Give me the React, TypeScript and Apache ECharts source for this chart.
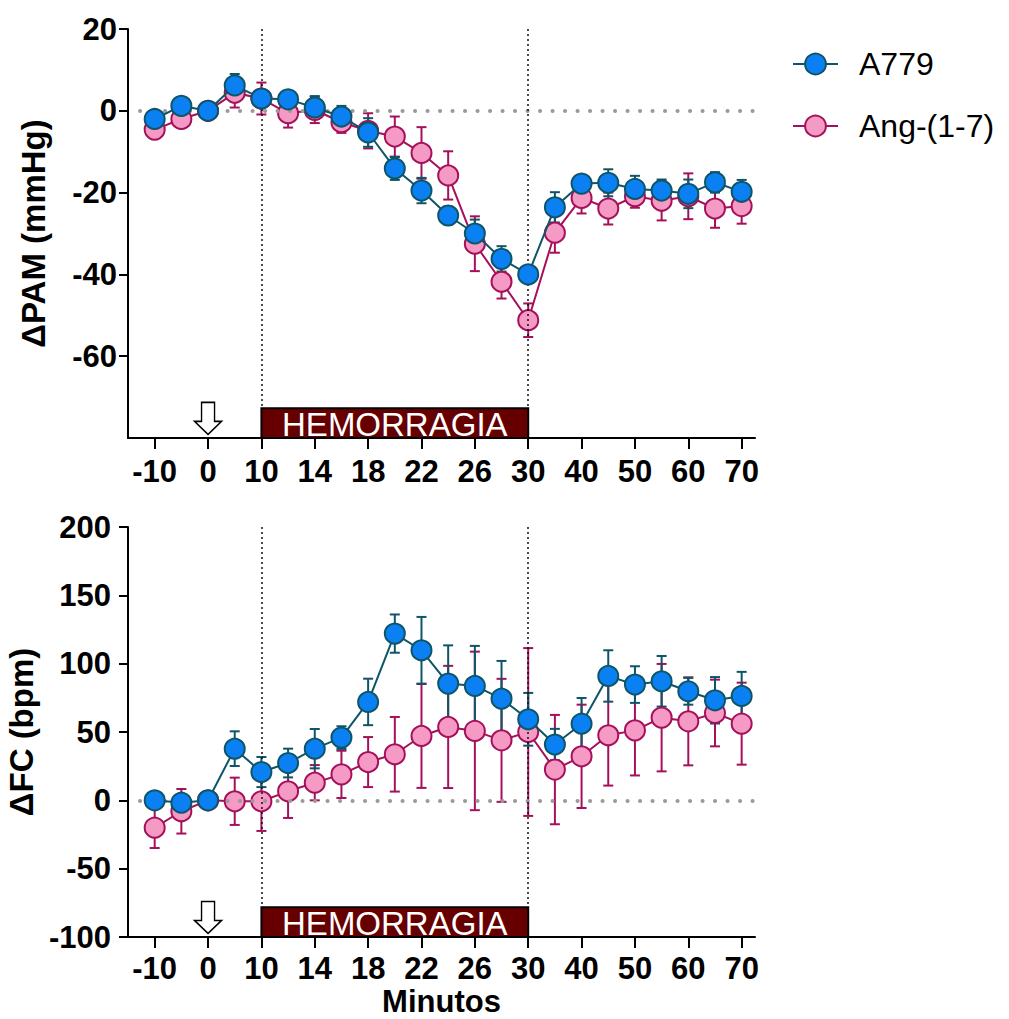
import React, { useEffect, useRef } from "react";
import * as echarts from "echarts";

// ---- data ----
const times = [-10, -5, 0, 5, 10, 12, 14, 16, 18, 20, 22, 24, 26, 28, 30, 35, 40, 45, 50, 55, 60, 65, 70];
const tickIndices = [0, 2, 4, 6, 8, 10, 12, 14, 16, 18, 20, 22];

const pamA779 = [-2, 1.2, 0, 6.2, 3.0, 2.8, 0.8, -1.4, -5.3, -14.1, -19.5, -25.6, -30, -36.2, -40, -23.6, -17.8, -17.6, -19.1, -19.5, -20.3, -17.5, -19.8];
const pamA779Sem = [1.0, 1.0, 0, 2.8, 2.0, 1.5, 2.8, 2.6, 3.5, 2.8, 3.1, 2.2, 3.4, 3.1, 2.0, 3.7, 2.0, 3.3, 3.2, 2.7, 3.5, 2.5, 2.9];
const pamAng = [-4.6, -2.0, 0, 4.4, 3.0, -0.6, 0.2, -2.8, -4.9, -6.3, -10.3, -15.8, -32.5, -41.8, -51.2, -29.8, -21.3, -23.9, -20.9, -22.0, -20.9, -23.9, -23.3];
const pamAngSem = [1.5, 1.0, 0, 3.6, 3.9, 3.5, 3.2, 2.6, 4.3, 4.9, 6.3, 5.9, 6.7, 4.1, 4.1, 4.9, 3.8, 3.9, 2.8, 4.8, 5.6, 4.7, 4.3];

const fcA779 = [0, -1.7, 0, 37.8, 20.7, 27.3, 37.8, 45.9, 72, 122, 109.8, 85.4, 83.7, 74.4, 59.3, 40.8, 56.1, 91, 84.7, 87.1, 79.8, 73.2, 76.4];
const fcA779Sem = [3, 3, 0, 12.7, 11, 10.5, 14.4, 8.3, 17, 14, 24.4, 28, 29.3, 27.6, 19.3, 11.5, 18.8, 18.8, 13.4, 18.5, 9.8, 17, 17.6];
const fcAng = [-20, -8, 0, -0.7, -0.7, 6.6, 12.9, 19, 28, 33.7, 47.1, 53.7, 50.8, 43.9, 50, 22.5, 32.2, 47.6, 51.2, 60.5, 57.8, 63.9, 56.1];
const fcAngSem = [14.9, 16.3, 0, 17.3, 21.7, 19.5, 12.9, 17.3, 18.3, 27.3, 38, 44.7, 58, 45, 61.4, 40, 37.8, 36.8, 33, 39.3, 32.2, 24.4, 30];

const pamTicks = [-60, -40, -20, 0, 20];
const hemStart = 10;
const hemEnd = 30;
const injectTime = 0;

// ---- styles ----
const FONT = 'Arial, "Liberation Sans", Helvetica, sans-serif';
const BLUE_FILL = "#0a80f2";
const BLUE_LINE = "#0e5568";
const PINK_FILL = "#f59ac4";
const PINK_LINE = "#a5105a";
const TICK_FS = 31;
const TITLE_FS = 33;

const idxOf = (t: number) => times.indexOf(t);

function errSeries(name: string, means: number[], sems: number[], color: string, ax: number) {
  return {
    type: "custom",
    name: name + " err",
    xAxisIndex: ax,
    yAxisIndex: ax,
    z: 3,
    silent: true,
    data: means.map((m, i) => [i, m, sems[i]]),
    encode: { x: 0, y: 1 },
    renderItem: (params: any, api: any) => {
      const x = api.value(0);
      const m = api.value(1);
      const e = api.value(2);
      if (!e) return { type: "group", children: [] };
      const hi = api.coord([x, m + e]);
      const lo = api.coord([x, m - e]);
      const w = 5;
      const st = { stroke: color, lineWidth: 2 };
      return {
        type: "group",
        children: [
          { type: "line", shape: { x1: hi[0], y1: hi[1], x2: lo[0], y2: lo[1] }, style: st },
          { type: "line", shape: { x1: hi[0] - w, y1: hi[1], x2: hi[0] + w, y2: hi[1] }, style: st },
          { type: "line", shape: { x1: lo[0] - w, y1: lo[1], x2: lo[0] + w, y2: lo[1] }, style: st },
        ],
      };
    },
  };
}

function lineSeries(name: string, means: number[], fill: string, stroke: string, ax: number, z: number) {
  return {
    type: "line",
    name,
    xAxisIndex: ax,
    yAxisIndex: ax,
    z,
    data: means.map((m, i) => [i, m]),
    symbol: "circle",
    symbolSize: 20,
    showAllSymbol: true,
    lineStyle: { color: stroke, width: 2 },
    itemStyle: { color: fill, borderColor: stroke, borderWidth: 2 },
    emphasis: { disabled: true },
  };
}

function annotSeries(ax: number, yTop: number, boxTop: number, yMin: number, arrowY: number) {
  const s = idxOf(hemStart);
  const e = idxOf(hemEnd);
  return {
    type: "scatter",
    name: "annot" + ax,
    xAxisIndex: ax,
    yAxisIndex: ax,
    data: [],
    z: 1,
    silent: true,
    markLine: {
      silent: true,
      symbol: "none",
      label: { show: false },
      animation: false,
      data: [
        [
          { coord: [-0.55, 0], lineStyle: { color: "#9a9a9a", width: 4, type: [0.1, 12.4], cap: "round" } },
          { coord: [22.5, 0] },
        ],
        [
          { coord: [s, yTop], lineStyle: { color: "#111", width: 1.5, type: [2, 3] } },
          { coord: [s, boxTop] },
        ],
        [
          { coord: [e, yTop], lineStyle: { color: "#111", width: 1.5, type: [2, 3] } },
          { coord: [e, boxTop] },
        ],
      ],
    },
    markArea: {
      silent: true,
      itemStyle: { color: "#660000", borderColor: "#000", borderWidth: 2, opacity: 1 },
      label: {
        show: true,
        position: "inside",
        color: "#fff",
        fontSize: 33,
        fontFamily: FONT,
        fontWeight: "normal",
        offset: [0, 1],
      },
      data: [[{ coord: [s, yMin], name: "HEMORRAGIA" }, { coord: [e, boxTop] }]],
    },
    markPoint: {
      silent: true,
      symbol: "path://M7,0 L20,0 L20,19 L27,19 L13.5,32 L0,19 L7,19 Z",
      symbolSize: [27, 32],
      symbolKeepAspect: false,
      label: { show: false },
      itemStyle: { color: "#fff", borderColor: "#000", borderWidth: 1.5 },
      data: [{ coord: [idxOf(injectTime), arrowY] }],
    },
  };
}

const xAxisCommon = (gi: number, margin: number, extra: any = {}) => ({
  type: "value",
  gridIndex: gi,
  min: -1,
  max: 22.5,
  splitLine: { show: false },
  axisLine: { show: true, onZero: false, lineStyle: { color: "#000", width: 2 } },
  axisTick: { show: true, length: 11, lineStyle: { color: "#000", width: 2 }, customValues: tickIndices },
  axisLabel: {
    customValues: tickIndices,
    formatter: (v: number) => String(times[Math.round(v)]),
    color: "#000",
    fontSize: TICK_FS,
    fontWeight: "bold",
    fontFamily: FONT,
    margin,
  },
  ...extra,
});

export default function App() {
  const ref = useRef<HTMLDivElement>(null);
  useEffect(() => {
    document.body.style.margin = "0";
    const chart = echarts.init(ref.current!, null, { renderer: "svg" });
    const option: any = {
      animation: false,
      backgroundColor: "#fff",
      textStyle: { fontFamily: FONT },
      legend: {
        data: ["A779", "Ang-(1-7)"],
        orient: "vertical",
        left: 787,
        top: 43,
        itemWidth: 45,
        itemHeight: 26,
        itemGap: 30,
        selectedMode: false,
        textStyle: { fontSize: 32, color: "#000", fontFamily: FONT, padding: [0, 0, 0, 16] },
      },
      grid: [
        { left: 128, top: 29, width: 627, height: 409, containLabel: false, outerBoundsMode: "none" },
        { left: 128, top: 527, width: 627, height: 410, containLabel: false, outerBoundsMode: "none" },
      ],
      xAxis: [
        xAxisCommon(0, 18),
        xAxisCommon(1, 16, {
          name: "Minutos",
          nameLocation: "middle",
          nameGap: 49,
          nameTextStyle: { fontSize: 31, fontWeight: "bold", color: "#000", fontFamily: FONT },
        }),
      ],
      yAxis: [
        {
          type: "value",
          gridIndex: 0,
          min: -80,
          max: 20,
          interval: 20,
          splitLine: { show: false },
          axisLine: { show: true, onZero: false, lineStyle: { color: "#000", width: 2 } },
          axisTick: { show: true, length: 9, lineStyle: { color: "#000", width: 2 }, customValues: pamTicks },
          axisLabel: {
            customValues: pamTicks,
            formatter: (v: number) => (v === -80 ? "" : String(v)),
            color: "#000",
            fontSize: TICK_FS,
            fontWeight: "bold",
            fontFamily: FONT,
            margin: 11,
          },
          name: "ΔPAM (mmHg)",
          nameLocation: "middle",
          nameGap: 78,
          nameTextStyle: { fontSize: TITLE_FS, fontWeight: "bold", color: "#000", fontFamily: FONT },
        },
        {
          type: "value",
          gridIndex: 1,
          min: -100,
          max: 200,
          interval: 50,
          splitLine: { show: false },
          axisLine: { show: true, onZero: false, lineStyle: { color: "#000", width: 2 } },
          axisTick: { show: true, length: 9, lineStyle: { color: "#000", width: 2 } },
          axisLabel: { color: "#000", fontSize: TICK_FS, fontWeight: "bold", fontFamily: FONT, margin: 17 },
          name: "ΔFC (bpm)",
          nameLocation: "middle",
          nameGap: 84,
          nameTextStyle: { fontSize: TITLE_FS, fontWeight: "bold", color: "#000", fontFamily: FONT },
        },
      ],
      series: [
        annotSeries(0, 20, -72.7, -80, -75.2),
        annotSeries(1, 200, -78.3, -100, -85.7),
        errSeries("Ang-(1-7)", pamAng, pamAngSem, PINK_LINE, 0),
        lineSeries("Ang-(1-7)", pamAng, PINK_FILL, PINK_LINE, 0, 4),
        errSeries("A779", pamA779, pamA779Sem, BLUE_LINE, 0),
        lineSeries("A779", pamA779, BLUE_FILL, BLUE_LINE, 0, 6),
        errSeries("Ang-(1-7)", fcAng, fcAngSem, PINK_LINE, 1),
        lineSeries("Ang-(1-7)", fcAng, PINK_FILL, PINK_LINE, 1, 4),
        errSeries("A779", fcA779, fcA779Sem, BLUE_LINE, 1),
        lineSeries("A779", fcA779, BLUE_FILL, BLUE_LINE, 1, 6),
      ],
    };
    chart.setOption(option);
    return () => chart.dispose();
  }, []);
  return <div ref={ref} style={{ width: 1009, height: 1019 }} />;
}
